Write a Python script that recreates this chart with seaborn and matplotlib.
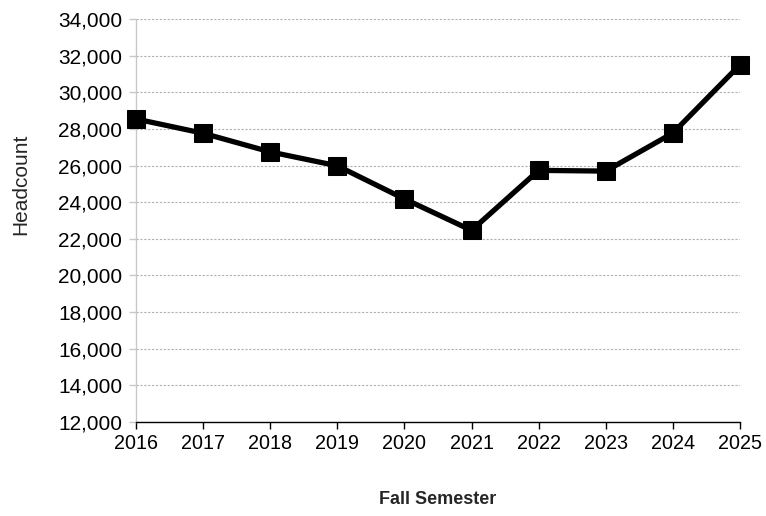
import matplotlib
matplotlib.use("Agg")
import matplotlib.pyplot as plt
import seaborn as sns
import pandas as pd
from matplotlib.ticker import FuncFormatter, MultipleLocator

years = [2016, 2017, 2018, 2019, 2020, 2021, 2022, 2023, 2024, 2025]
headcount = [28550, 27770, 26750, 25990, 24180, 22460, 25740, 25700, 27780, 31510]

sns.set_theme(style="white")
plt.rcParams['font.family'] = ['Liberation Sans', 'DejaVu Sans']

df = pd.DataFrame({"year": years, "headcount": headcount})

fig = plt.figure(figsize=(7.66, 5.16), dpi=100)
ax = fig.add_axes([0.1775, 0.1828, 0.7885, 0.7798])

sns.lineplot(data=df, x="year", y="headcount", ax=ax, color="black",
             linewidth=3.8, marker="s", markersize=13,
             markeredgecolor="black", markerfacecolor="black", zorder=3,
             clip_on=False)

ax.set_xlim(2016, 2025)
ax.set_ylim(12000, 34000)
ax.set_xticks(years)
ax.yaxis.set_major_locator(MultipleLocator(2000))
ax.yaxis.set_major_formatter(FuncFormatter(lambda v, p: f"{int(v):,}"))
ax.grid(axis="y", color="#b0b0b0", linestyle=(0, (2, 1.5)), linewidth=0.8)
ax.grid(axis="x", visible=False)

for s in ["top", "right"]:
    ax.spines[s].set_visible(False)
ax.spines["left"].set_color("#c8c8c8")
ax.spines["left"].set_linewidth(1.0)
ax.spines["bottom"].set_color("black")
ax.spines["bottom"].set_linewidth(1.0)

ax.tick_params(axis="x", which="major", bottom=True, length=5, width=1,
               color="black", labelsize=14.2, pad=4, labelcolor="black")
ax.tick_params(axis="y", which="major", left=True, length=5, width=1,
               color="#c8c8c8", labelsize=15, pad=5, labelcolor="black")

ax.set_xlabel("Fall Semester", fontsize=13, fontweight="bold", labelpad=27)
ax.set_ylabel("Headcount", fontsize=15)
ax.yaxis.set_label_coords(-0.175, 0.59)

fig.savefig("out.png", dpi=100)
